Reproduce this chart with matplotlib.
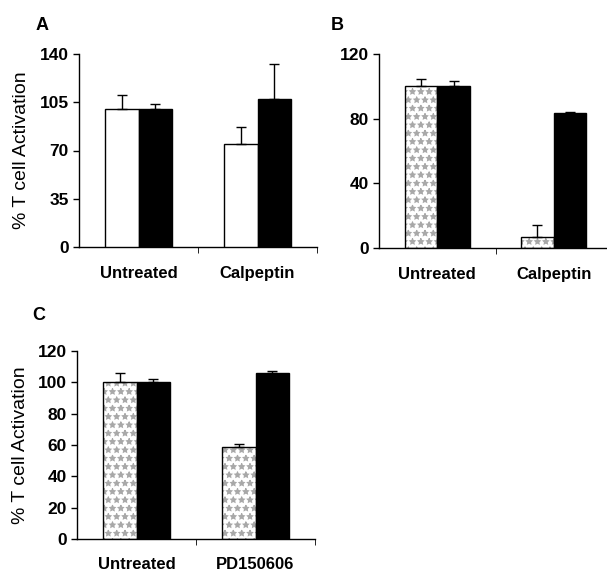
import matplotlib
matplotlib.use("Agg")
import matplotlib.pyplot as plt
import numpy as np

plt.rcParams.update({"font.family": ["Liberation Sans", "DejaVu Sans"],
                     "axes.linewidth": 1.0, "hatch.linewidth": 0.8})

# ---- data ----
groups_ab = ["Untreated", "Calpeptin"]
groups_c = ["Untreated", "PD150606"]

a_white = [100, 75]
a_white_err = [10, 12]
a_black = [100, 107]
a_black_err = [3.5, 26]

b_pat = [100, 7]
b_pat_err = [4.5, 7]
b_black = [100, 83.5]
b_black_err = [3.5, 0.7]

c_pat = [100, 59]
c_pat_err = [6, 1.5]
c_black = [100, 106]
c_black_err = [2, 1.5]

W = 0.28


def panel(ax, left_vals, left_err, right_vals, right_err, cats, yticks, ylim,
          patterned, label_pad):
    x = np.arange(len(cats))
    xl = x - W / 2
    xr = x + W / 2
    if patterned:
        ax.bar(xl, left_vals, W, color="white", edgecolor="#a8a8a8",
               linewidth=0, hatch="**", zorder=2)
        ax.bar(xl, left_vals, W, fill=False, edgecolor="black", linewidth=1.0, zorder=3)
    else:
        ax.bar(xl, left_vals, W, color="white", edgecolor="black", linewidth=1.0, zorder=3)
    ax.bar(xr, right_vals, W, color="black", edgecolor="black", linewidth=1.0, zorder=3)
    ax.errorbar(xl, left_vals, yerr=[np.zeros(len(cats)), left_err], fmt="none",
                ecolor="black", elinewidth=1.0, capsize=3.5, capthick=1.0, zorder=4)
    ax.errorbar(xr, right_vals, yerr=[np.zeros(len(cats)), right_err], fmt="none",
                ecolor="black", elinewidth=1.0, capsize=3.5, capthick=1.0, zorder=4)
    ax.set_xlim(-0.5, 1.5)
    ax.set_ylim(*ylim)
    ax.set_yticks(yticks)
    ax.set_xticks(x)
    ax.set_xticklabels(cats, fontsize=12, fontweight="bold")
    ax.set_xticks([0.5, 1.5], minor=True)
    ax.tick_params(axis="x", which="major", length=0, pad=label_pad)
    ax.tick_params(axis="x", which="minor", length=4, direction="out")
    ax.tick_params(axis="y", length=4, direction="out", labelsize=12.5, width=1.0)
    for lbl in ax.get_yticklabels():
        lbl.set_fontweight("bold")
    ax.spines["top"].set_visible(False)
    ax.spines["right"].set_visible(False)


fig = plt.figure(figsize=(6.07, 5.74), dpi=100)
W_px, H_px = 607, 574


def add_axes(l, r, t, b):
    return fig.add_axes([l / W_px, 1 - b / H_px, (r - l) / W_px, (b - t) / H_px])


axA = add_axes(79, 317, 54, 247)
panel(axA, a_white, a_white_err, a_black, a_black_err, groups_ab,
      [0, 35, 70, 105, 140], (0, 140), False, 14)
axA.set_ylabel("% T cell Activation", fontsize=14, labelpad=7)

axB = add_axes(379, 612, 54, 248)
panel(axB, b_pat, b_pat_err, b_black, b_black_err, groups_ab,
      [0, 40, 80, 120], (0, 120), True, 14)

axC = add_axes(77, 315, 351, 539)
panel(axC, c_pat, c_pat_err, c_black, c_black_err, groups_c,
      [0, 20, 40, 60, 80, 100, 120], (0, 120), True, 13)
axC.set_ylabel("% T cell Activation", fontsize=14, labelpad=6)

fig.text(42 / W_px, 1 - 25 / H_px, "A", fontsize=13, fontweight="bold", ha="center", va="center")
fig.text(337 / W_px, 1 - 25 / H_px, "B", fontsize=13, fontweight="bold", ha="center", va="center")
fig.text(39 / W_px, 1 - 315 / H_px, "C", fontsize=13, fontweight="bold", ha="center", va="center")

fig.savefig("out.png", dpi=100)
